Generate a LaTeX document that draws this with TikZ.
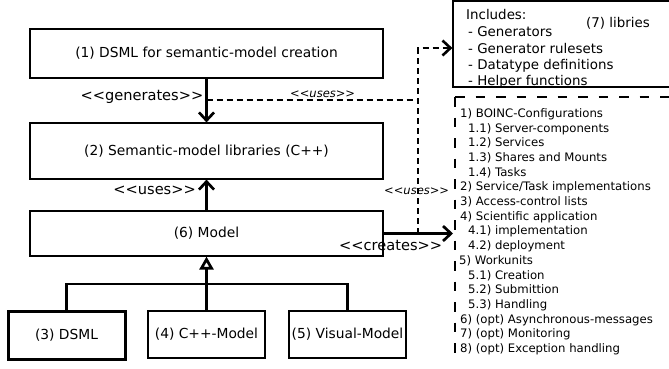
\documentclass[tikz,border=0pt]{standalone}
\usepackage{fontspec}
\setmainfont{DejaVu Sans}
\usetikzlibrary{arrows.meta}
\tikzset{
  box/.style={draw, line width=1.2pt, rectangle, inner sep=0pt, font=\fontsize{13.8}{16}\selectfont},
  barb/.tip={Straight Barb[length=8pt,width=15pt]},
  conn/.style={line width=2.7pt, -barb},
  dconn/.style={line width=2.6pt, dash pattern=on 6pt off 4pt},
  lbl/.style={font=\fontsize{14.6}{16}\selectfont, inner sep=0pt},
  ilbl/.style={font=\fontsize{11.5}{13}\selectfont\itshape, inner sep=0pt},
  btxt/.style={anchor=base west, inner sep=0pt, font=\fontsize{13.4}{16}\selectfont},
  ltxt/.style={anchor=base west, inner sep=0pt, font=\fontsize{11.7}{14}\selectfont},
  ldash/.style={line width=1.2pt, dash pattern=on 9.5pt off 11pt}
}
\begin{document}
\begin{tikzpicture}[x=1pt,y=-1pt]
\useasboundingbox (0,0) rectangle (669,368);
% main boxes
\node[box, minimum width=353pt, minimum height=49pt] (b1) at (206.5,53.5) {(1) DSML for semantic-model creation};
\node[box, minimum width=353pt, minimum height=56pt] (b2) at (206.5,151) {(2) Semantic-model libraries (C++)};
\node[box, minimum width=353pt, minimum height=45pt] (b6) at (206.5,233.5) {(6) Model};
\node[box, line width=3pt, minimum width=117pt, minimum height=48pt] (b3) at (66.5,335) {(3) DSML};
\node[box, minimum width=117pt, minimum height=47pt] (b4) at (206.5,334.5) {(4) C++-Model};
\node[box, minimum width=117pt, minimum height=47pt] (b5) at (347.5,334.5) {(5) Visual-Model};
% libraries box
\node[draw, line width=1.2pt, inner sep=0pt, minimum width=247pt, minimum height=86pt] (lib) at (576.5,44) {};
\node[btxt] (i0) at (466,19) {Includes:};
\node[btxt] (i1) at (468,36) {- Generators};
\node[btxt] (i2) at (468,53) {- Generator rulesets};
\node[btxt] (i3) at (468,69) {- Datatype definitions};
\node[btxt] (i4) at (468,85) {- Helper functions};
\node[btxt] (i7) at (586,27) {(7) libries};
% list area
\coordinate (lt) at (455,97);
\coordinate (lr) at (669,97);
\coordinate (lb) at (455,356);
\draw[ldash] (lt) -- (lr);
\draw[ldash] (lt) -- (lb);
\node[ltxt] (l0) at (460,117.3) {1) BOINC-Configurations};
\node[ltxt] (l1) at (468,132.0) {1.1) Server-components};
\node[ltxt] (l2) at (468,146.7) {1.2) Services};
\node[ltxt] (l3) at (468,161.4) {1.3) Shares and Mounts};
\node[ltxt] (l4) at (468,176.1) {1.4) Tasks};
\node[ltxt] (l5) at (460,190.8) {2) Service/Task implementations};
\node[ltxt] (l6) at (460,205.5) {3) Access-control lists};
\node[ltxt] (l7) at (460,220.2) {4) Scientific application};
\node[ltxt] (l8) at (468,234.9) {4.1) implementation};
\node[ltxt] (l9) at (468,249.6) {4.2) deployment};
\node[ltxt] (l10) at (459,264.3) {5) Workunits};
\node[ltxt] (l11) at (468,279.0) {5.1) Creation};
\node[ltxt] (l12) at (468,293.7) {5.2) Submittion};
\node[ltxt] (l13) at (468,308.4) {5.3) Handling};
\node[ltxt] (l14) at (460,323.1) {6) (opt) Asynchronous-messages};
\node[ltxt] (l15) at (460,337.8) {7) (opt) Monitoring};
\node[ltxt] (l16) at (460,352.5) {8) (opt) Exception handling};
% connectors
\draw[conn] (b1.south) -- (b2.north);
\draw[conn] (b6.north) -- (b2.south);
\coordinate (g) at (206.5,100);
\coordinate (j) at (418,100);
\coordinate (t) at (418,48);
\coordinate (c) at (418,233.5);
\coordinate (lw) at (453,233.5);
\draw[conn] (b6.east) -- (lw);
\draw[dconn] (g) -- (j);
\draw[dconn, -barb] (c) -- (t) -- (lib.west |- t);
% generalisation
\coordinate (hb) at (206.5,284);
\draw[line width=2.7pt] (b3.north) |- (hb) -| (b5.north);
\draw[line width=2.7pt] (b4.north) -- (hb);
\draw[line width=2.7pt, -{Triangle[open,length=13pt,width=14pt]}] (hb) -- (b6.south);
% labels
\node[lbl, anchor=base east] (lg) at (203.5,100) {{<}{<}generates{>}{>}};
\node[lbl, anchor=base east] (lu) at (196,194) {{<}{<}uses{>}{>}};
\node[lbl, anchor=base west] (lc) at (339,250) {{<}{<}creates{>}{>}};
\node[ilbl, anchor=base west] (iu1) at (290,97) {{<}{<}uses{>}{>}};
\node[ilbl, anchor=base west] (iu2) at (384,194) {{<}{<}uses{>}{>}};
\end{tikzpicture}
\end{document}
